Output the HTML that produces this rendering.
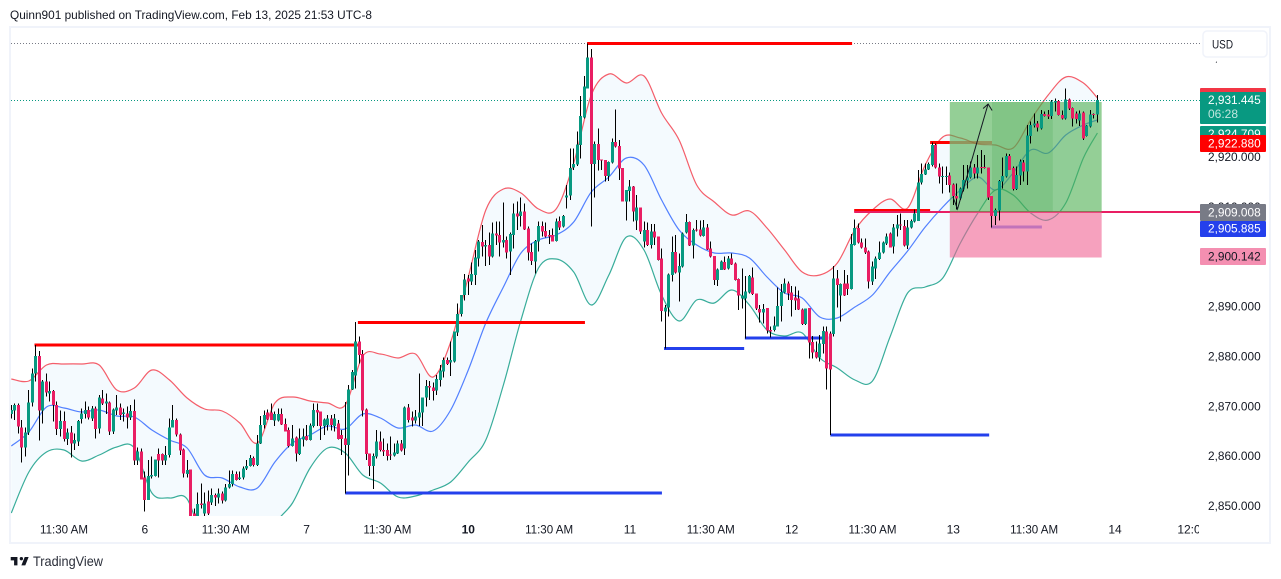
<!DOCTYPE html>
<html lang="en">
<head>
<meta charset="utf-8">
<title>XAUUSD chart</title>
<style>
html,body{margin:0;padding:0;background:#fff;width:1281px;height:579px;overflow:hidden}
svg{display:block;font-family:"Liberation Sans",sans-serif}
</style>
</head>
<body>
<svg id="chart" width="1281" height="579" viewBox="0 0 1281 579" xmlns="http://www.w3.org/2000/svg">
  <defs>
    <clipPath id="pane-clip"><rect x="11" y="28" width="1189" height="488"/></clipPath>
    <clipPath id="time-clip"><rect x="11" y="516" width="1188" height="27"/></clipPath>
  </defs>
  <rect x="0" y="0" width="1281" height="579" fill="#ffffff"/>
  <text x="10" y="19" font-size="12" fill="#131722" textLength="362" lengthAdjust="spacingAndGlyphs">Quinn901 published on TradingView.com, Feb 13, 2025 21:53 UTC-8</text>
  <rect x="10" y="27" width="1260" height="516" fill="#ffffff" stroke="#f0f3fa" stroke-width="2"/>
  <g id="pane" clip-path="url(#pane-clip)"></g>
  <g id="price-axis"></g>
  <g id="time-axis" clip-path="url(#time-clip)"></g>
  <g font-size="12">
    <rect x="1200" y="88" width="66" height="17" rx="1" fill="#f23645"/>
    <text x="1208" y="101" fill="#ffffff" textLength="52.7" lengthAdjust="spacingAndGlyphs">2,933.145</text>
    <rect x="1200" y="92" width="66" height="32" rx="1" fill="#089981"/>
    <text x="1208" y="104" fill="#ffffff" textLength="52.7" lengthAdjust="spacingAndGlyphs">2,931.445</text>
    <text x="1208" y="118" fill="#c0e6de" textLength="30" lengthAdjust="spacingAndGlyphs">06:28</text>
    <rect x="1200" y="126" width="66" height="17" rx="1" fill="#089981"/>
    <text x="1208" y="138" fill="#ffffff" textLength="52.7" lengthAdjust="spacingAndGlyphs">2,924.709</text>
    <rect x="1200" y="135" width="66" height="17" rx="1" fill="#ff0000"/>
    <text x="1208" y="147.5" fill="#ffffff" textLength="52.7" lengthAdjust="spacingAndGlyphs">2,922.880</text>
    <rect x="1200" y="204" width="66" height="17" rx="1" fill="#787b86"/>
    <text x="1208" y="216.5" fill="#ffffff" textLength="52.7" lengthAdjust="spacingAndGlyphs">2,909.008</text>
    <rect x="1200" y="221" width="66" height="16" rx="1" fill="#2440ec"/>
    <text x="1208" y="232.5" fill="#ffffff" textLength="52.7" lengthAdjust="spacingAndGlyphs">2,905.885</text>
    <rect x="1200" y="248" width="66" height="17" rx="1" fill="#f48fb1"/>
    <text x="1208" y="260.5" fill="#131722" textLength="52.7" lengthAdjust="spacingAndGlyphs">2,900.142</text>
  </g>
  <g>
    <rect x="1202" y="30" width="66" height="31.5" fill="#ffffff"/>
    <rect x="1203" y="31" width="64" height="26" rx="4" fill="#ffffff" stroke="#f0f3fa" stroke-width="1.5"/>
    <text x="1212" y="48.5" font-size="12" fill="#131722" textLength="21" lengthAdjust="spacingAndGlyphs">USD</text>
  </g>
  <g>
    <path transform="translate(9.6 553.6) scale(0.56)" fill="#131722" d="M14 6H2v6h6v9h6V6zm14 15h-7l6-15h7l-6 15zm-7-9a3 3 0 1 0 0-6 3 3 0 0 0 0 6z"/>
    <text x="33" y="566" font-size="14" fill="#2a2e39" textLength="70" lengthAdjust="spacingAndGlyphs">TradingView</text>
  </g>
</svg>
<script>
const opens = [
2868.3,2869,2870.1,2865.6,2861.6,2864.6,2870.6,2876.4,2879.9,2869,
2874.8,2872.4,2872.9,2870.1,2865.3,2866.9,2863.3,2864.6,2862.4,2862.8,
2867.3,2868.3,2869.1,2867.4,2869.4,2865.4,2871.4,2870.4,2870.6,2864.8,
2869,2869.6,2868.3,2868.4,2867.6,2868.9,2859,2860.8,2855.6,2851.1,
2855.8,2855.9,2860.3,2860.3,2859,2860.1,2865.6,2867.1,2864.2,2861.2,
2856.3,2857.2,2848.4,2847.8,2850.4,2848.4,2850.8,2850.6,2852.1,2851.6,
2852.4,2851,2853.6,2854.3,2856.3,2855.3,2855.6,2857.4,2857.9,2859.5,
2858.1,2862.4,2866.1,2868.6,2868.6,2867,2867,2868.3,2866.3,2865.1,
2861.9,2863.6,2860.3,2863.2,2863.9,2863.1,2865.9,2869.1,2868.8,2865.9,
2866.1,2867.4,2865.9,2866.4,2864.1,2863.4,2862.1,2873.2,2876,2882.8,
2880.3,2869.2,2860.4,2857.9,2859.8,2862.8,2861.1,2861.1,2860.2,2860,
2860.4,2862.4,2861.4,2869.6,2867.6,2867,2867.6,2868.6,2871.6,2873.9,
2873.6,2873,2875.1,2876.8,2879.1,2878.6,2878.8,2884.6,2888.3,2892.1,
2895.4,2894.8,2896.1,2899.4,2902.7,2901.8,2902.1,2899.8,2904.4,2904.1,
2902.6,2903.1,2900.8,2904.1,2908.4,2907.9,2908.8,2905.4,2900.7,2898.8,
2902.8,2905.9,2904.9,2904.1,2904.1,2902.9,2906.9,2905.8,2911.6,2912,
2917.6,2918.2,2922.1,2927.6,2933.4,2939.6,2918.3,2922.3,2919.2,2919.1,
2915.9,2918.6,2922.7,2921.9,2917.5,2910.8,2912.9,2913.8,2907,2909.6,
2902.8,2905.1,2902.1,2904.8,2903.8,2899.4,2888.8,2889.6,2896.1,2900.7,
2896.6,2897.8,2904.6,2906.7,2902,2905.2,2905.2,2903.9,2905.6,2901.4,
2899.9,2895.1,2897.1,2898.7,2897.4,2899.4,2898.4,2895.3,2891.4,2891.4,
2892.6,2895.6,2892.4,2889.3,2888.6,2889.5,2885.1,2885.1,2885.8,2889.9,
2892.6,2894.4,2892.6,2891.6,2891.4,2889.2,2886.3,2889.5,2882.7,2880.7,
2879.6,2882.3,2884.8,2884.4,2884.3,2895.4,2892,2894.4,2894.4,2893.3,
2902.1,2905.5,2902.6,2901.6,2900.8,2894.8,2897.4,2899.3,2900.6,2902.4,
2904.4,2901.8,2905.4,2906.2,2905.9,2902,2905.6,2906.8,2906.9,2914.6,
2916.2,2917.2,2918.1,2922.1,2917.6,2915.7,2915.7,2916,2914.2,2911.9,
2911.4,2913.2,2915,2915.6,2917.6,2916.4,2917.7,2917.7,2917.6,2911.9,
2907.9,2909,2914.8,2915.8,2919.9,2917.5,2913.3,2916,2918.6,2916.8,
2923.9,2926,2926.4,2925.4,2928.3,2928.2,2927.9,2930.6,2930.9,2928.1,
2927.4,2931.2,2929.5,2928.4,2927,2928.6,2923.9,2925.8,2928.3,2928.2];
const closes = [
2869.1,2870.1,2865.8,2861.6,2864.6,2870.6,2876.4,2879.9,2869,2874.8,
2872.6,2872.9,2870.1,2865.3,2866.9,2863.3,2864.6,2862.4,2863.1,2866.9,
2868.4,2869.1,2867.6,2869.4,2865.3,2871.6,2870.4,2870.8,2864.8,2869.2,
2869.6,2868.1,2868.6,2867.6,2868.9,2859,2860.8,2855.2,2851.1,2855.9,
2856.1,2859.2,2859,2859,2860.1,2865.6,2867.1,2864.2,2861,2856.4,
2857.1,2847.8,2846.8,2850.3,2850.1,2850.4,2848.4,2852.1,2851.6,2852.4,
2851,2853.6,2854.3,2856.3,2855.1,2855.6,2857.4,2857.9,2859.5,2858.1,
2862.4,2866.1,2868.1,2867.2,2867.1,2868.3,2868.3,2866.2,2864.8,2861.9,
2863.4,2860.4,2863.4,2863.8,2863.1,2866,2869.1,2868.6,2865.9,2867.2,
2867.4,2866.1,2867.4,2863.3,2863.3,2862.1,2873.2,2876.7,2882.8,2880.1,
2869,2860.3,2857.9,2859.9,2862.8,2861.1,2860.8,2859.9,2860,2860.6,
2862.4,2861,2869.6,2867.1,2867,2867.8,2868.6,2871.6,2873.9,2873.6,
2872.9,2875.3,2877,2879.1,2878.3,2879.1,2884.8,2888.3,2892.1,2895.2,
2894.8,2896.3,2899.6,2902.8,2901.8,2902.1,2899.8,2904.4,2904,2902.6,
2903.1,2900.6,2904.3,2908.4,2907.8,2908.8,2905.2,2900.6,2898.9,2902.9,
2905.9,2904.8,2903.8,2903.8,2902.8,2906.8,2905.6,2907.9,2912,2917.5,
2918.3,2922.2,2927.9,2933.8,2939.6,2918.3,2922.3,2919.1,2919,2915.9,
2918.7,2922.7,2921.8,2917.4,2910.8,2913.1,2913.8,2908.8,2909.6,2904.8,
2905.1,2902.1,2904.8,2903.6,2899.1,2888.9,2889.6,2896.2,2900.7,2896.6,
2897.9,2904.4,2906.7,2902,2905.1,2905,2904,2905.6,2901.2,2899.8,
2895.1,2897.2,2898.8,2897.2,2899.4,2898.2,2895.1,2892,2892,2892.8,
2895.9,2892.3,2889.4,2888.6,2889.3,2885,2884.8,2886,2889.9,2892.7,
2894.4,2892.4,2891.1,2891,2889.2,2886.3,2889.4,2882.6,2880.6,2879.6,
2882.4,2884.9,2877.4,2877.2,2895.4,2894.1,2894.3,2892,2893.3,2902.3,
2905.5,2902.6,2901.6,2900.6,2894.8,2897.8,2899.4,2900.6,2902.6,2903.8,
2901.6,2905.6,2906.2,2906,2902,2905.6,2906.9,2908.4,2914.6,2916.3,
2917.2,2918.3,2922.1,2917.6,2915.8,2915.9,2915.9,2914.1,2911.9,2911.4,
2913.4,2915.1,2915.6,2917.6,2916.4,2917.6,2917.6,2917.6,2911.6,2907.9,
2909.1,2914.9,2915.9,2919.9,2917.1,2913.3,2916.1,2918.8,2916.8,2924,
2926.1,2926.4,2925.6,2928.3,2927.9,2927.8,2930.8,2930.9,2928.1,2927.4,
2931.2,2929.4,2927.4,2927.3,2928.4,2923.4,2926,2928.2,2928.2,2931.1];
const highs = [
2870.1,2870.4,2870.4,2867.1,2865.6,2873.1,2877.4,2882.1,2880.9,2875.1,
2876.4,2874.8,2873.1,2870.8,2869,2868.8,2865.4,2865.9,2864.4,2867.1,
2869.4,2870.8,2869.8,2869.9,2869.8,2872.1,2873.1,2872.4,2870.8,2869.4,
2872.1,2870.4,2869.4,2869.8,2870.1,2871.2,2861.6,2861.4,2856.8,2859.1,
2859.8,2859.2,2861.4,2860.4,2861.9,2867.4,2870.1,2867.4,2864.4,2861.4,
2859.1,2857.2,2849.4,2852.6,2854.4,2852.6,2853,2853.4,2852.4,2853.4,
2852.8,2854.3,2857,2857,2856.8,2856.8,2857.8,2859.1,2860.1,2859.8,
2864.1,2867.9,2869,2869.2,2870.4,2868.8,2869.4,2869.4,2867.4,2865.6,
2866.1,2863.8,2865.4,2865.4,2866.1,2866.4,2870.4,2870.4,2868.8,2867.4,
2868.1,2868.1,2868.3,2867.1,2865.1,2870.7,2874.1,2877.1,2886.7,2883.8,
2881.1,2869.4,2860.4,2860.4,2865.1,2864.8,2863.4,2862.4,2863.8,2862.4,
2863,2863.1,2869.8,2870.3,2868.8,2869.1,2876.4,2871.6,2875.1,2874.9,
2874.6,2876.1,2878.1,2879.6,2879.6,2882.8,2884.8,2890.4,2892.1,2896.3,
2896.1,2898.6,2901.1,2903.1,2906.1,2903.1,2904.6,2906.6,2906.8,2906.8,
2910.6,2903.8,2904.6,2910.4,2910.8,2911.6,2910.4,2905.8,2902.4,2903.1,
2906.8,2906.8,2906.6,2905.1,2905.4,2907.4,2907.8,2908.1,2914.1,2921.4,
2921.4,2924.8,2931.9,2935.9,2942.4,2941.3,2922.8,2925.4,2919.2,2919.1,
2918.8,2923.4,2929.2,2923.1,2917.5,2913.1,2915.1,2913.9,2912.1,2909.6,
2906.8,2906.6,2906.3,2906.3,2903.8,2901.4,2890.1,2896.4,2903.8,2904.1,
2900.4,2904.6,2908.3,2906.8,2905.4,2907.1,2907,2907.1,2906.3,2902.8,
2899.9,2897.4,2899,2899.8,2899.9,2900.4,2898.6,2895.4,2897.4,2895.9,
2896.1,2897.6,2892.4,2890.1,2890.3,2889.5,2885.8,2887.8,2893.6,2894.3,
2895.4,2894.8,2893.9,2893.8,2893,2889.4,2889.4,2889.5,2883.9,2882.8,
2884.1,2885.8,2885.8,2884.8,2897.9,2897.1,2894.4,2897.1,2896.1,2904.3,
2907.2,2906.4,2903.4,2903.4,2901,2898.8,2899.8,2902.8,2902.8,2904.4,
2904.6,2906.3,2908.1,2908.4,2907.1,2907.1,2907.2,2909.2,2917.1,2918.4,
2918.4,2918.6,2922.6,2922.4,2918.4,2917.8,2917.8,2916.6,2914.4,2914.4,
2913.6,2918.1,2918.1,2918.8,2918.3,2920.1,2921.1,2920.1,2917.6,2911.9,
2909.4,2915.1,2919.6,2920.4,2920.3,2917.8,2917.8,2919.2,2919.1,2926.1,
2926.8,2928.4,2926.9,2929.1,2928.8,2929.1,2931.1,2931.4,2931.1,2929,
2933.4,2931.4,2929.6,2928.8,2929,2928.8,2926.1,2929.1,2928.4,2932.1];
const lows = [
2867.4,2867.1,2864.4,2858.6,2859.8,2864.1,2869.8,2874.8,2863,2866.4,
2871.8,2870.8,2866.8,2864.1,2863.8,2862.8,2862.1,2859.6,2861.1,2861.9,
2866.4,2867.4,2867.2,2866.9,2863.4,2864.4,2870.1,2868.3,2864.1,2864.3,
2868.1,2867.1,2866.8,2865.4,2867.1,2858.1,2858.1,2855.2,2848.8,2851.1,
2855.4,2855.8,2855.6,2858.1,2858.1,2859.6,2865.6,2863.8,2860.1,2855.6,
2855.6,2846.5,2845.8,2847.1,2849.4,2847.8,2848.1,2850.1,2849.9,2850.4,
2850.4,2850.8,2853.4,2853.8,2855,2855.1,2855.2,2857.1,2857.8,2857.8,
2857.9,2862.3,2865.4,2867.1,2867.1,2865.9,2866.8,2866.1,2864.8,2861.6,
2861.8,2858.8,2860.1,2861.8,2863,2863,2865.6,2865.9,2863.1,2864.1,
2865,2865,2864.8,2863.2,2860.1,2852.4,2856,2873.1,2873.4,2878.4,
2867.8,2859.1,2855.9,2853.3,2859.4,2860.8,2859.9,2859,2859.1,2859.8,
2860.3,2860.8,2860.1,2866.6,2865.8,2866.4,2865.9,2865.9,2869.8,2871.1,
2871,2872.1,2873.8,2875.6,2878.1,2875.9,2878.6,2883.9,2887.8,2891,
2892.1,2894.1,2894.1,2897.8,2899.8,2897.9,2898.1,2899.6,2902.1,2899.8,
2901.6,2899.4,2896.1,2901.4,2905.1,2905.8,2905.1,2899,2898.1,2896.4,
2900.8,2903.8,2903.6,2902.3,2902.8,2902.8,2905.1,2905.6,2909.4,2911.1,
2917.1,2917.9,2919.4,2927.4,2933.4,2905.8,2911.6,2917,2917.1,2914.8,
2914.9,2918.4,2921.6,2915.1,2910.8,2907,2910.8,2906.8,2905.1,2904.3,
2901.6,2901.9,2901.4,2902.1,2899,2886.8,2881.4,2887.8,2894.8,2896.4,
2890.8,2897.6,2904.4,2901.9,2899.4,2904.8,2903.8,2903.8,2901.1,2899.6,
2894.1,2893.9,2897.1,2897.1,2897.2,2898.1,2895,2889.1,2889.4,2883.4,
2892.4,2892.1,2889.1,2886.6,2886.4,2884.4,2883.6,2884.8,2885.8,2886.8,
2892.4,2891.1,2887.8,2889.1,2889.1,2886.1,2886.1,2879.4,2879.4,2879.4,
2878.8,2880.4,2873.2,2864.1,2883.8,2889.6,2886.8,2891.9,2892.1,2893.2,
2902,2902.4,2901.4,2900.3,2893.4,2894.1,2895.3,2899.1,2900.4,2902.1,
2901.6,2900.4,2903.8,2905.1,2901.8,2901.3,2905.4,2906.6,2906.9,2914.2,
2916.1,2917.1,2917.8,2917.4,2914.4,2912.4,2914.1,2912.6,2910.1,2909.2,
2911.1,2912.8,2913.4,2915.4,2915.4,2915.4,2916.4,2917.4,2911.1,2905.6,
2906.1,2907,2913.4,2915.6,2917.1,2913,2913.1,2914.1,2914.8,2914.1,
2922.4,2925.6,2924.8,2925.2,2927.8,2927.3,2927.3,2928.8,2928,2927.2,
2927.2,2929.1,2925.8,2926.4,2925.9,2923.1,2923.8,2925.6,2927.4,2926.6];

const bandBars = [0,5,10,15,20,25,30,35,40,45,50,55,60,65,70,75,80,85,90,95,100,105,110,115,120,125,130,135,140,145,150,155,160,165,170,175,180,185,190,195,200,205,210,215,220,225,230,235,240,245,250,255,260,265,270,275,280,285,290,295,300,305,309];
const bandUpper = [2875.3,2874.9,2878.1,2878.3,2878.3,2878.1,2873.1,2873.5,2877.1,2875.1,2871.5,2869.3,2868.9,2866.5,2862.5,2870.5,2871.7,2870.9,2870.5,2870.1,2879.9,2880.3,2879.5,2880.3,2875.7,2882.7,2895.7,2909.1,2913.3,2912.5,2909.3,2909.3,2918.5,2932.1,2936.3,2934.5,2935.9,2928.5,2923.1,2914.1,2910.7,2908.1,2908.9,2905.5,2901.1,2896.7,2896.1,2898.5,2905.1,2909.1,2911.3,2909.5,2918.1,2923.7,2923.5,2922.3,2922.1,2921.5,2927.1,2932.1,2935.7,2934.5,2931.5];
const bandMiddle = [2861.9,2864.7,2869.7,2869.5,2868.7,2869.1,2867.9,2867.7,2865.1,2863.1,2861.5,2856.1,2855.5,2853.7,2853.5,2858.7,2862.5,2864.1,2865.9,2865.3,2868.3,2867.5,2865.5,2866.1,2864.9,2869.1,2877.1,2886.5,2893.7,2900.5,2903.1,2904.1,2906.7,2912.7,2915.7,2919.5,2918.1,2911.1,2905.1,2902.1,2900.5,2900.5,2899.5,2895.7,2892.5,2891.5,2887.7,2887.5,2889.7,2892.1,2896.7,2900.9,2905.7,2909.7,2913.1,2915.7,2913.1,2916.5,2921.1,2920.5,2924.1,2926.1,2927.1];
const bandLower = [2848.5,2856.7,2860.7,2861.1,2858.9,2860.1,2861.7,2861.5,2852.5,2851.5,2851.3,2842.1,2839.1,2837.1,2837.1,2846.1,2850.5,2857.5,2861.5,2860.5,2856.1,2854.5,2851.7,2851.9,2853.1,2854.7,2858.7,2863.1,2874.1,2887.1,2897.5,2899.3,2896.7,2890.1,2896.1,2903.7,2901.1,2892.1,2886.9,2891.1,2890.5,2893.1,2890.1,2885.1,2883.9,2884.5,2879.5,2877.5,2875.1,2874.9,2883.7,2892.5,2893.7,2895.5,2902.5,2908.5,2913.1,2912.1,2908.5,2907.1,2910.5,2919.5,2924.5];

const redStart = [6.6,98.6,163.8,239.8,261.4];
const redEnd = [98.6,163.2,239.2,261.4,267];
const redPrice = [2882.1,2886.6,2942.4,2909,2922.6];
const fadedRedStart = [267];
const fadedRedEnd = [279];
const fadedRedPrice = [2922.6];
const blueStart = [95,185.7,208.7,233,278.7];
const blueEnd = [185.1,208.5,232.4,278.2,293.2];
const bluePrice = [2852.5,2881.4,2883.5,2864.1,2905.7];
const pinkLevel = [239.8,338.2,2908.7];
const positionBars = [267,310.2];
const positionPrices = [2930.7,2908.7,2899.6];
const overlapBars = [279,296.3];
const arrowBars = [267.9,269.2,277.9];
const arrowPrices = [2911.7,2909.3,2930.3];
const lastPriceDotted = 2931.1;
const highDotted = 2942.4;

const priceTicks = [2850,2860,2870,2880,2890,2900,2910,2920,2930,2940];
const priceTickLabels = ["2,850.000","2,860.000","2,870.000","2,880.000","2,890.000","2,900.000","2,910.000","2,920.000","2,930.000","2,940.000"];
const timeBars = [15,38,61,84,107,130,153,176,199,222,245,268,291,314,336];
const timeLabels = ["11:30 AM","6","11:30 AM","7","11:30 AM","10","11:30 AM","11","11:30 AM","12","11:30 AM","13","11:30 AM","14","12:00"];

const NS = "http://www.w3.org/2000/svg";
const X0 = 11.3, STEP = 3.515, Y0 = 505.5, PXU = 5, AXIS_PXU = 4.986;
const xOf = b => X0 + b * STEP;
const yOf = p => Y0 - (p - 2850) * PXU;
const tickY = p => Y0 - (p - 2850) * AXIS_PXU;
function el(tag, attrs, parent) {
  const n = document.createElementNS(NS, tag);
  for (const k in attrs) n.setAttribute(k, attrs[k]);
  parent.appendChild(n);
  return n;
}
function curve(pts) {
  let d = "";
  for (let i = 0; i < pts.length - 1; i++) {
    const p0 = pts[Math.max(0, i - 1)], p1 = pts[i], p2 = pts[i + 1], p3 = pts[Math.min(pts.length - 1, i + 2)];
    const c1x = p1[0] + (p2[0] - p0[0]) / 6, c1y = p1[1] + (p2[1] - p0[1]) / 6;
    const c2x = p2[0] - (p3[0] - p1[0]) / 6, c2y = p2[1] - (p3[1] - p1[1]) / 6;
    d += "C" + c1x.toFixed(1) + " " + c1y.toFixed(1) + " " + c2x.toFixed(1) + " " + c2y.toFixed(1) + " " + p2[0].toFixed(1) + " " + p2[1].toFixed(1);
  }
  return d;
}
const startOf = pts => pts[0][0].toFixed(1) + " " + pts[0][1].toFixed(1);
const pane = document.getElementById("pane");
const priceAxis = document.getElementById("price-axis");
const timeAxis = document.getElementById("time-axis");

const upPts = bandBars.map((b, i) => [xOf(b), yOf(bandUpper[i])]);
const midPts = bandBars.map((b, i) => [xOf(b), yOf(bandMiddle[i])]);
const lowPts = bandBars.map((b, i) => [xOf(b), yOf(bandLower[i])]);
const lowRev = lowPts.slice().reverse();

const bandFill = el("path", {d: "M" + startOf(upPts) + curve(upPts) + "L" + startOf(lowRev) + curve(lowRev) + "Z", fill: "#2196f3", "fill-opacity": "0.05"}, pane);


const upperLine = el("path", {d: "M" + startOf(upPts) + curve(upPts), fill: "none", stroke: "#f23645", "stroke-opacity": "0.8", "stroke-width": "1.2"}, pane);


const middleLine = el("path", {d: "M" + startOf(midPts) + curve(midPts), fill: "none", stroke: "#2962ff", "stroke-opacity": "0.8", "stroke-width": "1.2"}, pane);


const lowerLine = el("path", {d: "M" + startOf(lowPts) + curve(lowPts), fill: "none", stroke: "#089981", "stroke-opacity": "0.8", "stroke-width": "1.2"}, pane);



const greyDots = el("line", {x1: 11, x2: 1200, y1: Math.round(yOf(highDotted)) + 0.5, y2: Math.round(yOf(highDotted)) + 0.5, stroke: "#787b86", "stroke-dasharray": "1 2"}, pane);


const greenDots = el("line", {x1: 11, x2: 1200, y1: Math.round(yOf(lastPriceDotted)) + 0.5, y2: Math.round(yOf(lastPriceDotted)) + 0.5, stroke: "#089981", "stroke-dasharray": "1 2"}, pane);



redPrice.forEach((p, i) => {
  const l = el("line", {x1: xOf(redStart[i]), x2: xOf(redEnd[i]), y1: yOf(p), y2: yOf(p), stroke: "#ff0000", "stroke-width": "3"}, pane);
  
  
});
fadedRedPrice.forEach((p, i) => {
  const l = el("line", {x1: xOf(fadedRedStart[i]), x2: xOf(fadedRedEnd[i]), y1: yOf(p), y2: yOf(p), stroke: "#ff0000", "stroke-width": "3", "stroke-opacity": "0.55"}, pane);
  
  
});
bluePrice.forEach((p, i) => {
  const l = el("line", {x1: xOf(blueStart[i]), x2: xOf(blueEnd[i]), y1: yOf(p), y2: yOf(p), stroke: "#2440ec", "stroke-width": "3", "stroke-opacity": i === 4 ? 0.6 : 1}, pane);
  
  
});
const pink = el("line", {x1: xOf(pinkLevel[0]), x2: xOf(pinkLevel[1]), y1: yOf(pinkLevel[2]), y2: yOf(pinkLevel[2]), stroke: "#e91e63", "stroke-width": "2"}, pane);



const boxX = xOf(positionBars[0]), boxW = xOf(positionBars[1]) - boxX;
const profit = el("rect", {x: boxX, y: yOf(positionPrices[0]), width: boxW, height: yOf(positionPrices[1]) - yOf(positionPrices[0]), fill: "#4caf50", "fill-opacity": "0.6"}, pane);


const loss = el("rect", {x: boxX, y: yOf(positionPrices[1]), width: boxW, height: yOf(positionPrices[2]) - yOf(positionPrices[1]), fill: "#f06292", "fill-opacity": "0.6"}, pane);


const overlap = el("rect", {x: xOf(overlapBars[0]), y: yOf(positionPrices[0]), width: xOf(overlapBars[1]) - xOf(overlapBars[0]), height: yOf(positionPrices[1]) - yOf(positionPrices[0]), fill: "#3ca046", "fill-opacity": "0.2"}, pane);



opens.forEach((o, i) => {
  const c = closes[i];
  const col = Math.floor(xOf(i));
  const g = el("g", {"shape-rendering": "crispEdges"}, pane);
  
  
  el("rect", {x: col, y: yOf(highs[i]), width: 1, height: Math.max(1, yOf(lows[i]) - yOf(highs[i])), fill: "#000000"}, g);
  const top = yOf(Math.max(o, c));
  el("rect", {x: col - 1, y: top, width: 3, height: Math.max(1, yOf(Math.min(o, c)) - top), fill: c >= o ? "#089981" : "#e91e63"}, g);
});

const arrowPts = arrowBars.map((b, i) => xOf(b).toFixed(1) + "," + yOf(arrowPrices[i]).toFixed(1));
const arrow = el("polyline", {points: arrowPts.join(" "), fill: "none", stroke: "#131722", "stroke-width": "1"}, pane);


const hx = xOf(arrowBars[2]), hy = yOf(arrowPrices[2]);
const head = el("polyline", {points: (hx - 5) + "," + (hy + 4.5) + " " + hx + "," + hy + " " + (hx + 4) + "," + (hy + 6.5), fill: "none", stroke: "#131722", "stroke-width": "1"}, pane);



priceTicks.forEach((p, i) => {
  const t = el("text", {x: 1208, y: tickY(p) + 4.5, "font-size": 12, fill: "#131722", textLength: 52.7, lengthAdjust: "spacingAndGlyphs"}, priceAxis);
  
  
  t.textContent = priceTickLabels[i];
});
timeBars.forEach((b, i) => {
  const label = timeLabels[i];
  const attrs = {x: xOf(b), y: 533.5, "font-size": 12, fill: "#131722", "text-anchor": "middle"};
  if (label.length === 8) { attrs.textLength = 48; attrs.lengthAdjust = "spacingAndGlyphs"; }
  if (label === "10") attrs["font-weight"] = "bold";
  const t = el("text", attrs, timeAxis);
  
  
  t.textContent = label;
});
</script>
</body>
</html>
